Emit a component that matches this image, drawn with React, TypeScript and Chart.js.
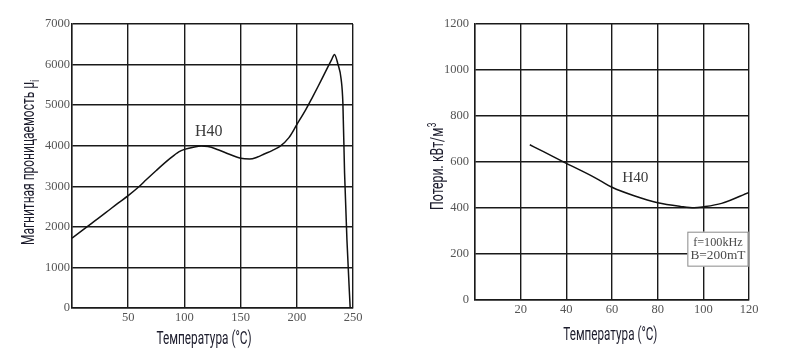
import React, { useEffect, useRef } from "react";
import { Chart, registerables } from "chart.js";

Chart.register(...registerables);

// ---- Data: permeability vs temperature (H40) ----
const permTemps = [0, 10, 20, 30, 41, 50, 60, 66, 75, 87, 95, 100, 109, 115, 121, 130, 140, 150, 158, 165, 171, 178, 185, 193, 200, 208, 214, 219, 224, 228, 231, 233.5, 236.5, 239.5, 241, 242.5, 244.6, 247.5];
const permValues = [1720, 1930, 2140, 2350, 2585, 2770, 3000, 3160, 3390, 3680, 3850, 3910, 3970, 3990, 3980, 3900, 3790, 3690, 3670, 3720, 3795, 3880, 3983, 4200, 4520, 4890, 5200, 5465, 5740, 5960, 6120, 6250, 6020, 5630, 5050, 3330, 1680, 0];
const permXRange = [0, 250];
const permXStep = 50;
const permYRange = [0, 7000];
const permYStep = 1000;

// ---- Data: core losses vs temperature (H40, f=100kHz, B=200mT) ----
const lossTemps = [24, 30, 40, 50, 55, 60, 70, 80, 90, 96, 100, 108, 120];
const lossValues = [675, 645, 594, 545, 518, 490, 452, 423, 407, 401, 405, 420, 468];
const lossXRange = [0, 120];
const lossXStep = 20;
const lossYRange = [0, 1200];
const lossYStep = 200;

// ---- Text ----
const xTitle = "Температура (°C)";
const permYTitle = "Магнитная проницаемость μ";
const permYTitleSub = "i";
const lossYTitle = "Потери. кВт/м";
const lossYTitleSup = "3";
const seriesName = "H40";
const conditionLines = ["f=100kHz", "B=200mT"];

const SERIF = "'Liberation Serif', 'DejaVu Serif', 'Times New Roman', serif";
const SANS = "Roboto, 'Liberation Sans', 'DejaVu Sans', sans-serif";
const GRID = "#1a1a1a";
const TITLE_COLOR = "#1c1c2c";

type FitText = {
  text: string;
  extra?: string;
  extraMode?: "sub" | "sup";
  x: number;
  y: number;
  width: number;
  size: number;
  family: string;
  color: string;
  rotate?: boolean;
  align: "center" | "left";
};

function drawFit(ctx: CanvasRenderingContext2D, t: FitText) {
  ctx.save();
  ctx.translate(t.x, t.y);
  if (t.rotate) ctx.rotate(-Math.PI / 2);
  const mainFont = `${t.size}px ${t.family}`;
  const small = t.size * 0.68;
  const smallFont = `${small}px ${t.family}`;
  ctx.font = mainFont;
  const w1 = ctx.measureText(t.text).width;
  let w2 = 0;
  if (t.extra) {
    ctx.font = smallFont;
    w2 = ctx.measureText(t.extra).width;
  }
  const total = w1 + w2;
  ctx.scale(t.width / total, 1);
  const sx = t.align === "center" ? -total / 2 : 0;
  ctx.fillStyle = t.color;
  ctx.textBaseline = "alphabetic";
  ctx.textAlign = "left";
  ctx.font = mainFont;
  ctx.fillText(t.text, sx, 0);
  if (t.extra) {
    ctx.font = smallFont;
    ctx.fillText(t.extra, sx + w1 + 0.5, t.extraMode === "sub" ? t.size * 0.28 : -t.size * 0.42);
  }
  ctx.restore();
}

const overlayPlugin = {
  id: "overlayTexts",
  afterDraw(chart: any, _args: any, opts: any) {
    const ctx: CanvasRenderingContext2D = chart.ctx;
    const xs = chart.scales.x;
    const ys = chart.scales.y;
    (opts.texts || []).forEach((t: FitText) => drawFit(ctx, t));
    (opts.dataTexts || []).forEach((d: any) => {
      drawFit(ctx, {
        text: d.text,
        x: xs.getPixelForValue(d.xv),
        y: ys.getPixelForValue(d.yv),
        width: d.width,
        size: d.size,
        family: SERIF,
        color: "#3a3a3a",
        align: "center",
      });
    });
    if (opts.box) {
      const b = opts.box;
      const ca = chart.chartArea;
      const left = xs.getPixelForValue(b.fromX);
      const right = ca.right - 0.5;
      const top = ys.getPixelForValue(b.topY);
      const bottom = ys.getPixelForValue(b.bottomY);
      ctx.save();
      ctx.fillStyle = "#ffffff";
      ctx.fillRect(left, top, right - left, bottom - top);
      ctx.strokeStyle = "#8a8a8a";
      ctx.lineWidth = 1;
      ctx.strokeRect(left + 0.5, top + 0.5, right - left - 1, bottom - top - 1);
      ctx.restore();
      const cx = (left + right) / 2;
      b.lines.forEach((ln: string, i: number) => {
        drawFit(ctx, {
          text: ln,
          x: cx,
          y: top + 14 + i * 13,
          width: b.widths[i],
          size: 12,
          family: SERIF,
          color: "#4a4a4a",
          align: "center",
        });
      });
    }
  },
};

function makeScale(range: number[], step: number, fixed: { width?: number; height?: number }, pad: number, hideZero: boolean) {
  return {
    type: "linear" as const,
    min: range[0],
    max: range[1],
    afterFit: (s: any) => {
      if (fixed.width !== undefined) s.width = fixed.width;
      if (fixed.height !== undefined) s.height = fixed.height;
    },
    grid: { color: GRID, lineWidth: 1.4, drawTicks: false },
    border: { color: GRID, width: 1.4 },
    ticks: {
      stepSize: step,
      padding: pad,
      color: "#555555",
      font: { family: SERIF, size: 12.5 },
      autoSkip: false,
      maxRotation: 0,
      callback: (v: any) => (hideZero && Number(v) === 0 ? "" : String(v)),
    },
  };
}

function ChartCanvas({ config, left }: { config: any; left: number }) {
  const ref = useRef<HTMLCanvasElement | null>(null);
  useEffect(() => {
    if (!ref.current) return;
    const chart = new Chart(ref.current, config);
    return () => chart.destroy();
  }, [config]);
  return (
    <canvas
      ref={ref}
      width={394}
      height={360}
      style={{ position: "absolute", left, top: 0, width: 394, height: 360 }}
    />
  );
}

const permConfig: any = {
  type: "line",
  data: {
    datasets: [
      {
        label: seriesName,
        data: permTemps.map((t, i) => ({ x: t, y: permValues[i] })),
        borderColor: "#111111",
        borderWidth: 1.5,
        pointRadius: 0,
        fill: false,
        cubicInterpolationMode: "monotone",
      },
    ],
  },
  options: {
    responsive: false,
    animation: false,
    devicePixelRatio: 1,
    layout: { padding: { left: 0, right: 41, top: 24, bottom: 0 } },
    plugins: {
      legend: { display: false },
      tooltip: { enabled: false },
      overlayTexts: {
        texts: [
          { text: xTitle, x: 204, y: 344, width: 95, size: 18, family: SANS, color: TITLE_COLOR, align: "center" },
          { text: permYTitle, extra: permYTitleSub, extraMode: "sub", x: 33.5, y: 245, width: 165, size: 18, family: SANS, color: TITLE_COLOR, rotate: true, align: "left" },
        ],
        dataTexts: [{ text: seriesName, xv: 121.7, yv: 4247, width: 27.5, size: 16 }],
      },
    },
    scales: {
      x: makeScale(permXRange, permXStep, { height: 52 }, 2, true),
      y: makeScale(permYRange, permYStep, { width: 72 }, 2, false),
    },
  },
  plugins: [overlayPlugin],
};

const lossConfig: any = {
  type: "line",
  data: {
    datasets: [
      {
        label: seriesName,
        data: lossTemps.map((t, i) => ({ x: t, y: lossValues[i] })),
        borderColor: "#111111",
        borderWidth: 1.5,
        pointRadius: 0,
        fill: false,
        cubicInterpolationMode: "monotone",
      },
    ],
  },
  options: {
    responsive: false,
    animation: false,
    devicePixelRatio: 1,
    layout: { padding: { left: 0, right: 39, top: 24, bottom: 0 } },
    plugins: {
      legend: { display: false },
      tooltip: { enabled: false },
      overlayTexts: {
        texts: [
          { text: xTitle, x: 216.3, y: 340, width: 94, size: 18, family: SANS, color: TITLE_COLOR, align: "center" },
          { text: lossYTitle, extra: lossYTitleSup, extraMode: "sup", x: 49.3, y: 210, width: 87, size: 18, family: SANS, color: TITLE_COLOR, rotate: true, align: "left" },
        ],
        dataTexts: [{ text: seriesName, xv: 70.2, yv: 513, width: 26.3, size: 15 }],
        box: { fromX: 93, topY: 297, bottomY: 145, lines: conditionLines, widths: [49.5, 55] },
      },
    },
    scales: {
      x: makeScale(lossXRange, lossXStep, { height: 60 }, 2, true),
      y: makeScale(lossYRange, lossYStep, { width: 81 }, 6, false),
    },
  },
  plugins: [overlayPlugin],
};

export default function App() {
  return (
    <div style={{ position: "absolute", left: 0, top: 0, width: 788, height: 360, background: "#ffffff" }}>
      <ChartCanvas config={permConfig} left={0} />
      <ChartCanvas config={lossConfig} left={394} />
    </div>
  );
}
